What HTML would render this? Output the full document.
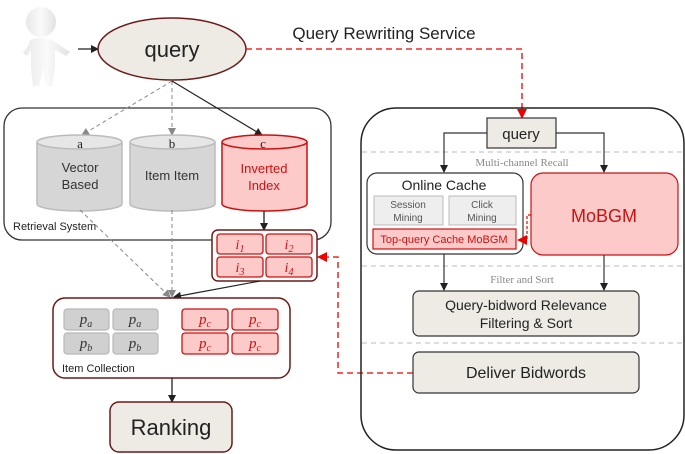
<!DOCTYPE html>
<html><head><meta charset="utf-8"><style>
html,body{margin:0;padding:0;background:#fff;}
svg{display:block;}
text{font-family:"Liberation Sans",sans-serif;}
.serif{font-family:"Liberation Serif",serif;}
</style></head><body>
<svg width="685" height="454" viewBox="0 0 685 454" xmlns="http://www.w3.org/2000/svg">
<defs>
<marker id="ab" markerWidth="8" markerHeight="8" refX="7" refY="4" orient="auto" markerUnits="userSpaceOnUse"><path d="M0,0 L8,4 L0,8 z" fill="#222"/></marker>
<marker id="ag" markerWidth="8" markerHeight="8" refX="7" refY="4" orient="auto" markerUnits="userSpaceOnUse"><path d="M0,0 L8,4 L0,8 z" fill="#888"/></marker>
<marker id="ar" markerWidth="10" markerHeight="10" refX="9" refY="5" orient="auto" markerUnits="userSpaceOnUse"><path d="M0,0 L10,5 L0,10 z" fill="#e00"/></marker>
<linearGradient id="pg" x1="0" x2="1"><stop offset="0" stop-color="#e8e8e8"/><stop offset="0.5" stop-color="#fafafa"/><stop offset="1" stop-color="#e2e2e2"/></linearGradient>
</defs>
<!-- person -->
<g fill="url(#pg)">
<circle cx="41" cy="22" r="15"/>
<path d="M30,40 Q41,36 52,40 L64,48 L70,52 L66,56 L55,50 L55,68 L52,86 L46,86 L43,68 L39,86 L33,86 L31,68 L31,50 L27,56 L23,53 L28,46 z"/>
</g>
<line x1="78" y1="49" x2="98" y2="49" stroke="#222" stroke-width="1.3" marker-end="url(#ab)"/>
<ellipse cx="172" cy="49" rx="74" ry="31" fill="#eeebe5" stroke="#6b1a1a" stroke-width="1.5"/>
<text x="172" y="57" font-size="22" text-anchor="middle" fill="#222">query</text>
<text x="384" y="39" font-size="17" text-anchor="middle" fill="#222">Query Rewriting Service</text>
<path d="M246,49 L522,49 L522,118" fill="none" stroke="#e00" stroke-width="1.3" stroke-dasharray="6,4" marker-end="url(#ar)"/>

<!-- retrieval system -->
<rect x="4" y="108" width="327" height="132" rx="18" fill="none" stroke="#333" stroke-width="1.3"/>
<line x1="172" y1="81" x2="82" y2="135" stroke="#888" stroke-dasharray="4,3" marker-end="url(#ag)"/>
<line x1="172" y1="81" x2="172" y2="135" stroke="#888" stroke-dasharray="4,3" marker-end="url(#ag)"/>
<line x1="172" y1="81" x2="262" y2="135" stroke="#222" stroke-width="1.2" marker-end="url(#ab)"/>
<g stroke="#bbb" stroke-width="1.5" fill="#d6d6d6">
<path d="M37,142 L37,204 A42.5,7 0 0 0 122,204 L122,142"/>
<ellipse cx="79.5" cy="142" rx="42.5" ry="7" fill="#e6e6e6"/>
<path d="M130,142 L130,204 A42.5,7 0 0 0 215,204 L215,142"/>
<ellipse cx="172.5" cy="142" rx="42.5" ry="7" fill="#e6e6e6"/>
</g>
<g stroke="#cc1111" stroke-width="1.5" fill="#fdcaca">
<path d="M222,142 L222,204 A42.5,7 0 0 0 307,204 L307,142"/>
<ellipse cx="264.5" cy="142" rx="42.5" ry="7" fill="#fdcaca"/>
</g>
<text class="serif" x="80" y="148" font-size="13" text-anchor="middle" fill="#222">a</text>
<text class="serif" x="172" y="148" font-size="13" text-anchor="middle" fill="#222">b</text>
<text class="serif" x="263" y="148" font-size="13" text-anchor="middle" fill="#222">c</text>
<text x="80" y="172" font-size="13" text-anchor="middle" fill="#333">Vector</text>
<text x="80" y="189" font-size="13" text-anchor="middle" fill="#333">Based</text>
<text x="172" y="180" font-size="13" text-anchor="middle" fill="#333">Item Item</text>
<text x="264" y="173" font-size="13" text-anchor="middle" fill="#cc1111">Inverted</text>
<text x="264" y="190" font-size="13" text-anchor="middle" fill="#cc1111">Index</text>
<text x="13" y="230" font-size="11" fill="#222">Retrieval System</text>

<line x1="264" y1="211" x2="264" y2="230" stroke="#222" stroke-width="1.3" marker-end="url(#ab)"/>
<rect x="212" y="230" width="105" height="51" rx="6" fill="#fff" stroke="#6b1a1a" stroke-width="1.5"/>
<g fill="#fdcaca" stroke="#cc1111" stroke-width="1.3">
<rect x="217" y="234" width="46" height="20" rx="3"/><rect x="266" y="234" width="46" height="20" rx="3"/>
<rect x="217" y="257" width="46" height="20" rx="3"/><rect x="266" y="257" width="46" height="20" rx="3"/>
</g>
<g class="serif" font-size="14" fill="#cc1111" font-style="italic" text-anchor="middle">
<text class="serif" x="240" y="249">i<tspan font-size="10" dy="3">1</tspan></text>
<text class="serif" x="289" y="249">i<tspan font-size="10" dy="3">2</tspan></text>
<text class="serif" x="240" y="272">i<tspan font-size="10" dy="3">3</tspan></text>
<text class="serif" x="289" y="272">i<tspan font-size="10" dy="3">4</tspan></text>
</g>
<path d="M413,373 L338,373 L338,257 L318,257" fill="none" stroke="#e00" stroke-width="1.3" stroke-dasharray="6,4" marker-end="url(#ar)"/>

<!-- converging arrows -->
<line x1="80" y1="210" x2="170" y2="297" stroke="#888" stroke-dasharray="4,3" marker-end="url(#ag)"/>
<line x1="172" y1="210" x2="172" y2="297" stroke="#888" stroke-dasharray="4,3" marker-end="url(#ag)"/>
<line x1="260" y1="281" x2="174" y2="297" stroke="#222" stroke-width="1.2" marker-end="url(#ab)"/>

<rect x="53" y="298" width="237" height="80" rx="12" fill="#fff" stroke="#6b1a1a" stroke-width="1.5"/>
<g fill="#d0d0d0" stroke="#b8b8b8" stroke-width="1.2">
<rect x="64" y="309" width="45" height="21" rx="3"/><rect x="113" y="309" width="45" height="21" rx="3"/>
<rect x="64" y="333" width="45" height="21" rx="3"/><rect x="113" y="333" width="45" height="21" rx="3"/>
</g>
<g fill="#fdcaca" stroke="#cc1111" stroke-width="1.3">
<rect x="182" y="309" width="46" height="21" rx="3"/><rect x="232" y="309" width="46" height="21" rx="3"/>
<rect x="182" y="333" width="46" height="21" rx="3"/><rect x="232" y="333" width="46" height="21" rx="3"/>
</g>
<g font-size="15" font-style="italic" text-anchor="middle">
<text class="serif" x="86" y="324" fill="#333">p<tspan font-size="10" dy="3">a</tspan></text>
<text class="serif" x="135" y="324" fill="#333">p<tspan font-size="10" dy="3">a</tspan></text>
<text class="serif" x="86" y="348" fill="#333">p<tspan font-size="10" dy="3">b</tspan></text>
<text class="serif" x="135" y="348" fill="#333">p<tspan font-size="10" dy="3">b</tspan></text>
<text class="serif" x="205" y="324" fill="#cc1111">p<tspan font-size="10" dy="3">c</tspan></text>
<text class="serif" x="255" y="324" fill="#cc1111">p<tspan font-size="10" dy="3">c</tspan></text>
<text class="serif" x="205" y="348" fill="#cc1111">p<tspan font-size="10" dy="3">c</tspan></text>
<text class="serif" x="255" y="348" fill="#cc1111">p<tspan font-size="10" dy="3">c</tspan></text>
</g>
<text x="62" y="372" font-size="11" fill="#222">Item Collection</text>
<line x1="172" y1="378" x2="172" y2="402" stroke="#222" stroke-width="1.3" marker-end="url(#ab)"/>
<rect x="110" y="402" width="122" height="50" rx="9" fill="#eeebe5" stroke="#6b1a1a" stroke-width="1.5"/>
<text x="171" y="435" font-size="22" text-anchor="middle" fill="#222">Ranking</text>

<!-- right box -->
<rect x="361" y="108" width="323" height="342" rx="35" fill="none" stroke="#222" stroke-width="1.5"/>
<g stroke="#bbb" stroke-dasharray="5,4"><line x1="362" y1="152" x2="684" y2="152"/><line x1="362" y1="266" x2="684" y2="266"/><line x1="362" y1="343" x2="684" y2="343"/></g>
<rect x="487" y="118" width="69" height="30" fill="#eeebe5" stroke="#333" stroke-width="1.2"/>
<text x="521" y="139" font-size="15" text-anchor="middle" fill="#222">query</text>
<path d="M487,133 L444,133 L444,172" fill="none" stroke="#333" stroke-width="1.2" marker-end="url(#ab)"/>
<path d="M556,133 L604,133 L604,172" fill="none" stroke="#333" stroke-width="1.2" marker-end="url(#ab)"/>
<text class="serif" x="522" y="166" font-size="11" text-anchor="middle" fill="#888">Multi-channel Recall</text>
<rect x="367" y="173" width="156" height="81" rx="10" fill="#fff" stroke="#333" stroke-width="1.2"/>
<text x="444" y="190" font-size="14" text-anchor="middle" fill="#222">Online Cache</text>
<rect x="374" y="196" width="69" height="29" fill="#eee" stroke="#bbb"/>
<rect x="449" y="196" width="67" height="29" fill="#eee" stroke="#bbb"/>
<text x="408" y="208" font-size="10" text-anchor="middle" fill="#555">Session</text>
<text x="408" y="221" font-size="10" text-anchor="middle" fill="#555">Mining</text>
<text x="482" y="208" font-size="10" text-anchor="middle" fill="#555">Click</text>
<text x="482" y="221" font-size="10" text-anchor="middle" fill="#555">Mining</text>
<rect x="373" y="229" width="143" height="20" fill="#fdcaca" stroke="#cc1111" stroke-width="1.2"/>
<text x="444" y="243" font-size="11" text-anchor="middle" fill="#cc1111">Top-query Cache MoBGM</text>
<rect x="531" y="173" width="147" height="82" rx="12" fill="#fdcaca" stroke="#cc1111" stroke-width="1.2"/>
<text x="604" y="222" font-size="18" text-anchor="middle" fill="#cc1111">MoBGM</text>
<path d="M531,215 L527,215 L527,240 L518,240" fill="none" stroke="#e00" stroke-width="1.2" stroke-dasharray="3,2" marker-end="url(#ar)"/>
<text class="serif" x="522" y="283" font-size="11" text-anchor="middle" fill="#888">Filter and Sort</text>
<line x1="444" y1="254" x2="444" y2="290" stroke="#333" stroke-width="1.2" marker-end="url(#ab)"/>
<line x1="604" y1="255" x2="604" y2="290" stroke="#333" stroke-width="1.2" marker-end="url(#ab)"/>
<rect x="413" y="291" width="226" height="45" rx="6" fill="#eeebe5" stroke="#333" stroke-width="1.2"/>
<text x="526" y="310" font-size="14" text-anchor="middle" fill="#222">Query-bidword Relevance</text>
<text x="526" y="328" font-size="14" text-anchor="middle" fill="#222">Filtering &amp; Sort</text>
<rect x="413" y="352" width="226" height="41" rx="6" fill="#eeebe5" stroke="#333" stroke-width="1.2"/>
<text x="526" y="378" font-size="16" text-anchor="middle" fill="#222">Deliver Bidwords</text>
</svg>
</body></html>
